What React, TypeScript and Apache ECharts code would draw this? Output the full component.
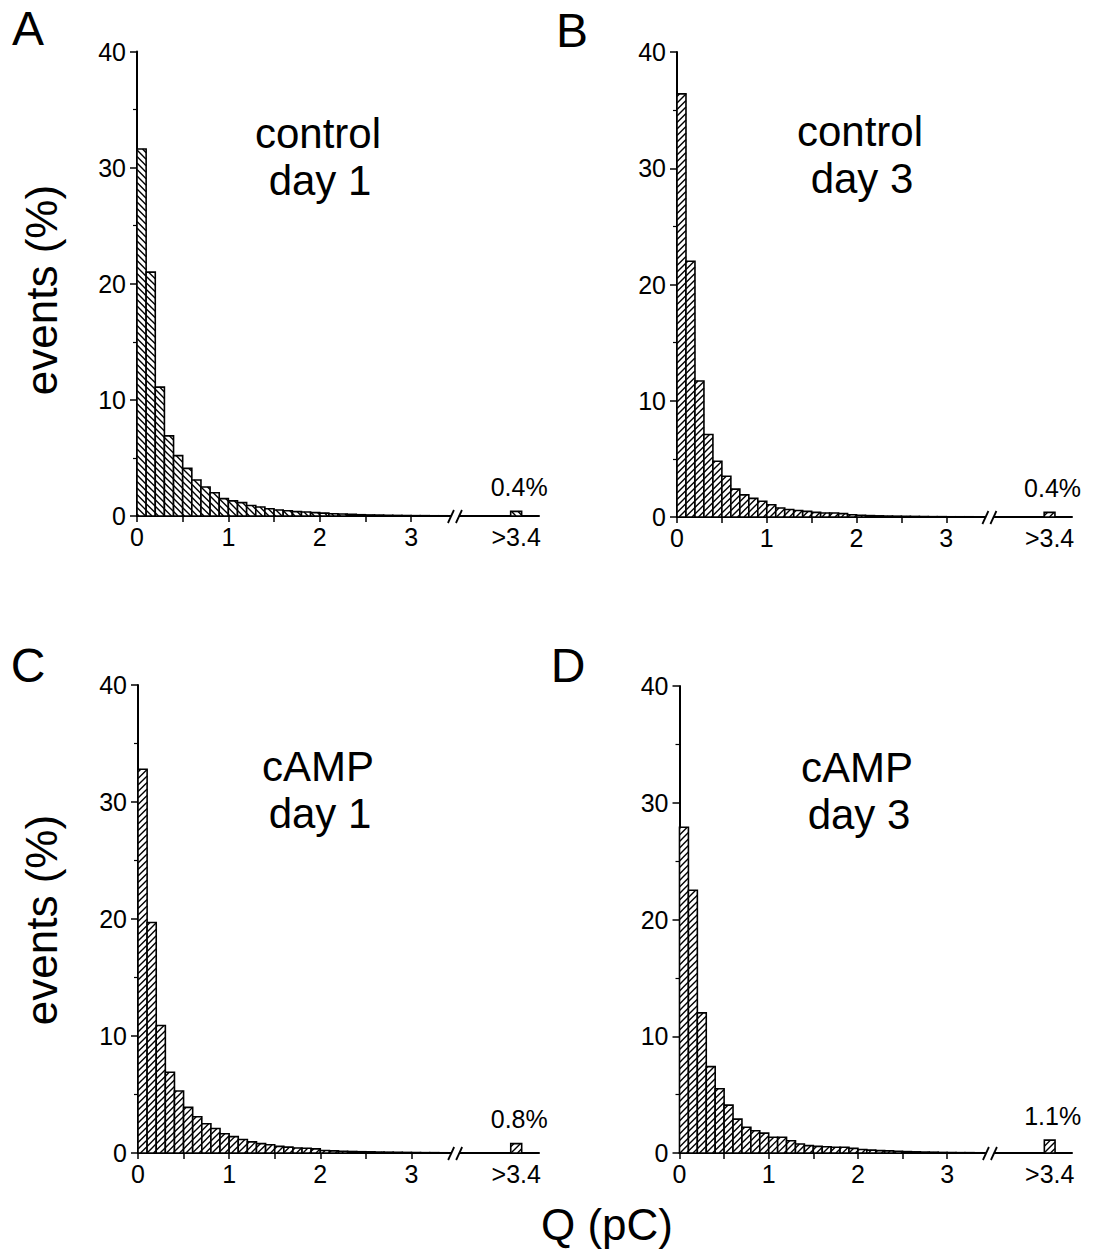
import React, { useEffect, useRef } from "react";
import * as echarts from "echarts";

// ---------- data ----------
const BIN_STARTS = [
  0, 0.1, 0.2, 0.3, 0.4, 0.5, 0.6, 0.7, 0.8, 0.9, 1.0, 1.1, 1.2, 1.3, 1.4, 1.5, 1.6,
  1.7, 1.8, 1.9, 2.0, 2.1, 2.2, 2.3, 2.4, 2.5, 2.6, 2.7, 2.8, 2.9, 3.0, 3.1, 3.2, 3.3,
];
const BIN_WIDTH = 0.1;

const CONTROL_DAY1 = [
  31.6, 21.0, 11.1, 6.9, 5.2, 4.1, 3.1, 2.5, 2.0, 1.5, 1.3, 1.15, 0.9, 0.78, 0.63, 0.52, 0.45,
  0.38, 0.34, 0.29, 0.25, 0.2, 0.17, 0.14, 0.11, 0.09, 0.08, 0.06, 0.05, 0.04, 0.03, 0.03, 0.02, 0.02,
];
const CONTROL_DAY3 = [
  36.4, 22.0, 11.7, 7.1, 4.8, 3.5, 2.4, 1.9, 1.6, 1.35, 1.05, 0.78, 0.64, 0.56, 0.48, 0.4, 0.34,
  0.34, 0.29, 0.2, 0.15, 0.12, 0.1, 0.08, 0.07, 0.06, 0.05, 0.04, 0.03, 0.03, 0.02, 0.02, 0.02, 0.01,
];
const CAMP_DAY1 = [
  32.8, 19.7, 10.9, 6.9, 5.3, 3.9, 3.1, 2.5, 2.1, 1.65, 1.4, 1.15, 0.95, 0.8, 0.7, 0.57, 0.5,
  0.43, 0.4, 0.35, 0.22, 0.18, 0.15, 0.13, 0.11, 0.1, 0.08, 0.07, 0.06, 0.05, 0.04, 0.03, 0.03, 0.02,
];
const CAMP_DAY3 = [
  27.9, 22.5, 12.0, 7.4, 5.5, 4.1, 2.9, 2.2, 1.9, 1.7, 1.35, 1.35, 1.05, 0.77, 0.63, 0.57, 0.54,
  0.49, 0.49, 0.4, 0.3, 0.25, 0.2, 0.18, 0.15, 0.12, 0.1, 0.08, 0.07, 0.05, 0.04, 0.03, 0.03, 0.02,
];
const OVERFLOW = [0.4, 0.4, 0.8, 1.1]; // events > 3.4 pC (%)

const PANEL_LETTERS = ["A", "B", "C", "D"];
const CONDITIONS = ["control", "control", "cAMP", "cAMP"];
const DAYS = ["day 1", "day 3", "day 1", "day 3"];

const X_LABEL_VALUES = [0, 1, 2, 3, 4.15];
const X_LABEL_TEXTS = ["0", "1", "2", "3", ">3.4"];
const X_TICK_VALUES = [0, 0.5, 1, 1.5, 2, 2.5, 3];
const Y_LABEL_VALUES = [0, 10, 20, 30, 40];

// ---------- layout ----------
const FONT = "'Liberation Sans', Arial, Helvetica, sans-serif";
const TICK_FONT = 25;
const GRIDS = [
  { left: 137, top: 51.5, width: 402, height: 464.5 },
  { left: 677, top: 52, width: 395, height: 465 },
  { left: 138, top: 685, width: 401, height: 468 },
  { left: 679.5, top: 686, width: 392.5, height: 467 },
];
const HATCH_DIR = [-1, 1, 1, 1];
const OVERFLOW_POS = 4.09;
const OVERFLOW_W = 0.12;
const BREAK_POS = 3.48;

function hatchedRect(left: number, top: number, right: number, bottom: number, dir: number) {
  const children: any[] = [];
  children.push({
    type: "rect",
    shape: { x: left, y: top, width: right - left, height: bottom - top },
    style: { fill: "#fff", stroke: "none" },
  });
  const step = 6.5;
  const lw = 1.4;
  if (bottom - top > 0.5) {
    if (dir === 1) {
      const cStart = Math.ceil((left + top) / step) * step;
      for (let c = cStart; c <= right + bottom; c += step) {
        const xa = Math.max(left, c - bottom);
        const xb = Math.min(right, c - top);
        if (xb - xa > 0.3) {
          children.push({
            type: "line",
            shape: { x1: xa, y1: c - xa, x2: xb, y2: c - xb },
            style: { stroke: "#000", lineWidth: lw },
          });
        }
      }
    } else {
      const cStart = Math.ceil((top - right) / step) * step;
      for (let c = cStart; c <= bottom - left; c += step) {
        const xa = Math.max(left, top - c);
        const xb = Math.min(right, bottom - c);
        if (xb - xa > 0.3) {
          children.push({
            type: "line",
            shape: { x1: xa, y1: xa + c, x2: xb, y2: xb + c },
            style: { stroke: "#000", lineWidth: lw },
          });
        }
      }
    }
  }
  children.push({
    type: "rect",
    shape: { x: left, y: top, width: right - left, height: bottom - top },
    style: { fill: "none", stroke: "#000", lineWidth: 1.6 },
  });
  return children;
}

function histRenderer(dir: number, withLabel: boolean) {
  return (_params: any, api: any) => {
    const x0 = api.value(0);
    const v = api.value(1);
    const w = api.value(2);
    const p0 = api.coord([x0, 0]);
    const p1 = api.coord([x0 + w, v]);
    const children = hatchedRect(p0[0], p1[1], p1[0], p0[1], dir);
    if (withLabel) {
      children.push({
        type: "text",
        x: (p0[0] + p1[0]) / 2 + 3,
        y: p1[1] - 12,
        style: {
          text: `${v}%`,
          fill: "#000",
          font: `${TICK_FONT}px ${FONT}`,
          align: "center",
          verticalAlign: "bottom",
        },
      });
    }
    return { type: "group", children };
  };
}

function breakRenderer(_params: any, api: any) {
  const p = api.coord([api.value(0), 0]);
  const x = p[0];
  const y = p[1];
  return {
    type: "group",
    children: [
      { type: "rect", shape: { x: x - 4, y: y - 3, width: 8, height: 6 }, style: { fill: "#fff" } },
      { type: "line", shape: { x1: x - 7, y1: y + 7, x2: x - 1, y2: y - 6 }, style: { stroke: "#000", lineWidth: 1.8 } },
      { type: "line", shape: { x1: x + 1, y1: y + 7, x2: x + 7, y2: y - 6 }, style: { stroke: "#000", lineWidth: 1.8 } },
    ],
  };
}

export default function App() {
  const ref = useRef<HTMLDivElement>(null);

  useEffect(() => {
    document.body.style.margin = "0";
    document.body.style.overflow = "hidden";
    if (!ref.current) return;
    const chart = echarts.init(ref.current, undefined, { renderer: "svg" });

    const panels = [CONTROL_DAY1, CONTROL_DAY3, CAMP_DAY1, CAMP_DAY3];

    const grid = GRIDS.map((g) => ({ ...g, containLabel: false }));

    const xAxis = GRIDS.map((_, i) => ({
      type: "value",
      gridIndex: i,
      min: 0,
      max: 4.4,
      axisLine: { show: true, onZero: false, lineStyle: { color: "#000", width: 2 } },
      axisTick: { show: true, customValues: X_TICK_VALUES, length: 6, lineStyle: { color: "#000", width: 1.5 } },
      axisLabel: {
        show: true,
        customValues: X_LABEL_VALUES,
        margin: 8,
        color: "#000",
        fontSize: TICK_FONT,
        fontFamily: FONT,
        formatter: (v: number) => {
          const k = X_LABEL_VALUES.findIndex((t) => Math.abs(t - v) < 1e-6);
          return k >= 0 ? X_LABEL_TEXTS[k] : "";
        },
      },
      splitLine: { show: false },
    }));

    const yAxis = GRIDS.map((_, i) => ({
      type: "value",
      gridIndex: i,
      min: 0,
      max: 40,
      interval: 10,
      axisLine: { show: true, lineStyle: { color: "#000", width: 2 } },
      axisTick: { show: true, length: 7, lineStyle: { color: "#000", width: 1.5 } },
      minorTick: { show: true, splitNumber: 2, length: 4, lineStyle: { color: "#000", width: 1.2 } },
      axisLabel: {
        customValues: Y_LABEL_VALUES,
        margin: 11,
        color: "#000",
        fontSize: TICK_FONT,
        fontFamily: FONT,
      },
      splitLine: { show: false },
      minorSplitLine: { show: false },
    }));

    const series: any[] = [];
    panels.forEach((vals, i) => {
      series.push({
        type: "custom",
        name: `hist-${PANEL_LETTERS[i]}`,
        xAxisIndex: i,
        yAxisIndex: i,
        renderItem: histRenderer(HATCH_DIR[i], false),
        data: BIN_STARTS.map((s, j) => [s, vals[j], BIN_WIDTH]),
        clip: false,
        silent: true,
      });
      series.push({
        type: "custom",
        name: `overflow-${PANEL_LETTERS[i]}`,
        xAxisIndex: i,
        yAxisIndex: i,
        renderItem: histRenderer(HATCH_DIR[i], true),
        data: [[OVERFLOW_POS, OVERFLOW[i], OVERFLOW_W]],
        clip: false,
        silent: true,
      });
      series.push({
        type: "custom",
        name: `break-${PANEL_LETTERS[i]}`,
        xAxisIndex: i,
        yAxisIndex: i,
        renderItem: breakRenderer,
        data: [[BREAK_POS, 0]],
        clip: false,
        silent: true,
        z: 5,
      });
    });

    const letterPos = [
      [28, 28],
      [572, 30],
      [28, 665],
      [568, 665],
    ];
    const condPos = [
      [318, 133],
      [860, 131],
      [318, 766],
      [857, 767],
    ];
    const graphics: any[] = [];
    PANEL_LETTERS.forEach((L, i) => {
      graphics.push({
        type: "text",
        x: letterPos[i][0],
        y: letterPos[i][1],
        style: { text: L, font: `48px ${FONT}`, fill: "#000", align: "center", verticalAlign: "middle" },
      });
      graphics.push({
        type: "text",
        x: condPos[i][0],
        y: condPos[i][1],
        style: { text: CONDITIONS[i], font: `42px ${FONT}`, fill: "#000", align: "center", verticalAlign: "middle" },
      });
      graphics.push({
        type: "text",
        x: condPos[i][0] + 2,
        y: condPos[i][1] + 47,
        style: { text: DAYS[i], font: `42px ${FONT}`, fill: "#000", align: "center", verticalAlign: "middle" },
      });
    });
    [290, 920].forEach((cy) => {
      graphics.push({
        type: "text",
        x: 41,
        y: cy,
        rotation: Math.PI / 2,
        style: { text: "events (%)", font: `44px ${FONT}`, fill: "#000", align: "center", verticalAlign: "middle" },
      });
    });
    graphics.push({
      type: "text",
      x: 607,
      y: 1224,
      style: { text: "Q (pC)", font: `44px ${FONT}`, fill: "#000", align: "center", verticalAlign: "middle" },
    });

    chart.setOption({
      animation: false,
      backgroundColor: "#fff",
      grid,
      xAxis,
      yAxis,
      series,
      graphic: graphics,
    });

    return () => chart.dispose();
  }, []);

  return <div ref={ref} style={{ width: 1094, height: 1260 }} />;
}
